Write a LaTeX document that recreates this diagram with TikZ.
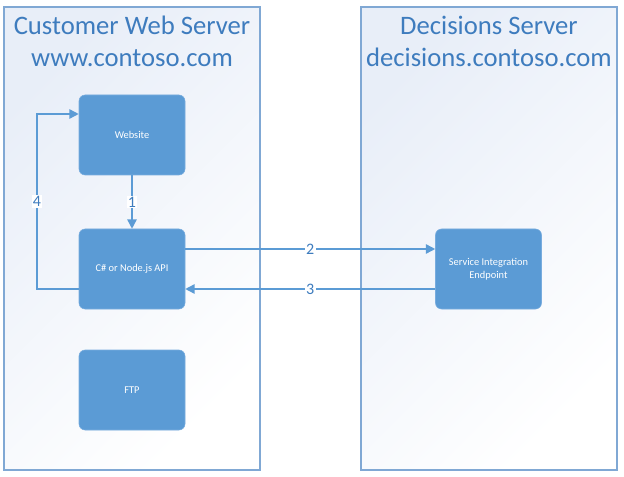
\documentclass[tikz,border=0pt]{standalone}
\usepackage{fontspec}
\setmainfont{Carlito}
\usepackage{tikz}
\usetikzlibrary{positioning,arrows.meta}

\definecolor{boxblue}{RGB}{91,155,213}
\definecolor{boxedge}{RGB}{120,172,222}
\definecolor{titleblue}{RGB}{62,124,190}
\definecolor{frameblue}{RGB}{128,168,212}
\definecolor{shadeblue}{RGB}{232,238,248}

\tikzset{
  server/.style={top color=shadeblue, middle color=white, bottom color=white, shading angle=45},
  box/.style={draw=boxedge, fill=boxblue, rounded corners=4.5pt, minimum width=79.5pt, minimum height=60pt, inner sep=2pt, text=white, font=\fontsize{7.8}{9.5}\selectfont, align=center},
  title/.style={text=titleblue, font=\fontsize{20}{24}\selectfont, align=center},
  arr/.style={draw=boxblue, line width=1.1pt, -{Triangle[length=7pt,width=7pt]}},
  num/.style={fill=white, inner sep=1pt, text=titleblue, font=\fontsize{12}{13}\selectfont}
}

\begin{document}
\begin{tikzpicture}[x=0.75pt,y=0.75pt,yscale=-1,xscale=1]
\useasboundingbox (0,0) rectangle (624,477);

%Shape: Rectangle [Customer Web Server]
\shade [server] (4,7) rectangle (260,470);
%Shape: Rectangle [Decisions Server]
\shade [server] (361,7) rectangle (617,470);
\draw [frameblue, line width=1pt] (4,7) rectangle (260,470);
\draw [frameblue, line width=1pt] (361,7) rectangle (617,470);

% Text Node
\node (webtitle) at (132,41) [title] {Customer Web Server\\www.contoso.com};
% Text Node
\node (dectitle) at (489,41) [title] {Decisions Server\\decisions.contoso.com};

%Shape: Rounded Rectangle
\node (website) at (132,135) [box] {Website};
\node (api) at (132,269) [box] {C\# or Node.js API};
\node (ftp) at (132,390) [box] {FTP};
\node (endpoint) at (488.5,269) [box] {Service Integration\\Endpoint};

\coordinate (loopb) at (37,289);
\coordinate (loopt) at (37,114);

%Straight Lines
\draw [arr] (website) -- node [num] {1} (api);
\draw [arr] ([yshift=-15pt]api.east) -- node [num] {2} ([yshift=-15pt]endpoint.west);
\draw [arr] ([yshift=15pt]endpoint.west) -- node [num] {3} ([yshift=15pt]api.east);
\draw [arr] ([yshift=15pt]api.west) -- (loopb) -- node [num] {4} (loopt) -- ([yshift=-15.75pt]website.west);

\end{tikzpicture}
\end{document}
